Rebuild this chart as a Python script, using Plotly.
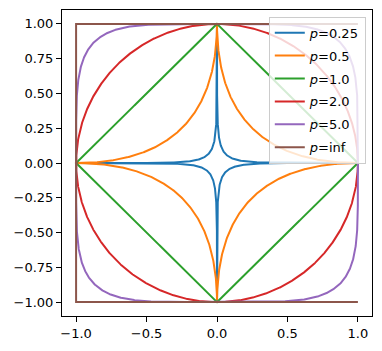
import numpy as np
import plotly.graph_objects as go

# Norm orders shown in the chart (unit balls |x|^p + |y|^p = 1)
p_values = [0.25, 0.5, 1.0, 2.0, 5.0, np.inf]
p_labels = ["0.25", "0.5", "1.0", "2.0", "5.0", "inf"]
colors = ["#1f77b4", "#ff7f0e", "#2ca02c", "#d62728", "#9467bd", "#8c564b"]

x_ticks = [-1.0, -0.5, 0.0, 0.5, 1.0]
y_ticks = [-1.0, -0.75, -0.5, -0.25, 0.0, 0.25, 0.5, 0.75, 1.0]

t = np.linspace(0, 2 * np.pi, 2001)

fig = go.Figure()
for p, lab, c in zip(p_values, p_labels, colors):
    e = 0.0 if np.isinf(p) else 2.0 / p
    ct, st = np.cos(t), np.sin(t)
    x = np.sign(ct) * np.abs(ct) ** e
    y = np.sign(st) * np.abs(st) ** e
    if np.isinf(p):
        x = np.where(ct >= 0, 1.0, -1.0)
        y = np.where(st >= 0, 1.0, -1.0)
    fig.add_trace(go.Scatter(x=x, y=y, mode="lines", name=f"<i>p</i>={lab}",
                             legendgroup=lab,
                             line=dict(color=c, width=2)))

axis_common = dict(showgrid=False, zeroline=False, showline=True, linecolor="black",
                   linewidth=1, mirror=True, ticks="outside", ticklen=5, tickwidth=1,
                   tickcolor="black", tickfont=dict(family="DejaVu Sans", size=13, color="black"))

fig.update_layout(
    width=382, height=351,
    margin=dict(l=62, r=10, t=10, b=35),
    plot_bgcolor="white", paper_bgcolor="white",
    xaxis=dict(range=[-1.1, 1.1], tickvals=x_ticks, tickformat=".1f", **axis_common),
    yaxis=dict(range=[-1.1, 1.1], tickvals=y_ticks, tickformat=".2f", **axis_common),
    legend=dict(x=0.98, y=0.978, xanchor="right", yanchor="top",
                bgcolor="rgba(255,255,255,0.8)", bordercolor="#cccccc", borderwidth=1,
                font=dict(family="DejaVu Sans", size=13, color="black"),
                tracegroupgap=3),
    showlegend=True,
)

fig.write_html("out.html")
